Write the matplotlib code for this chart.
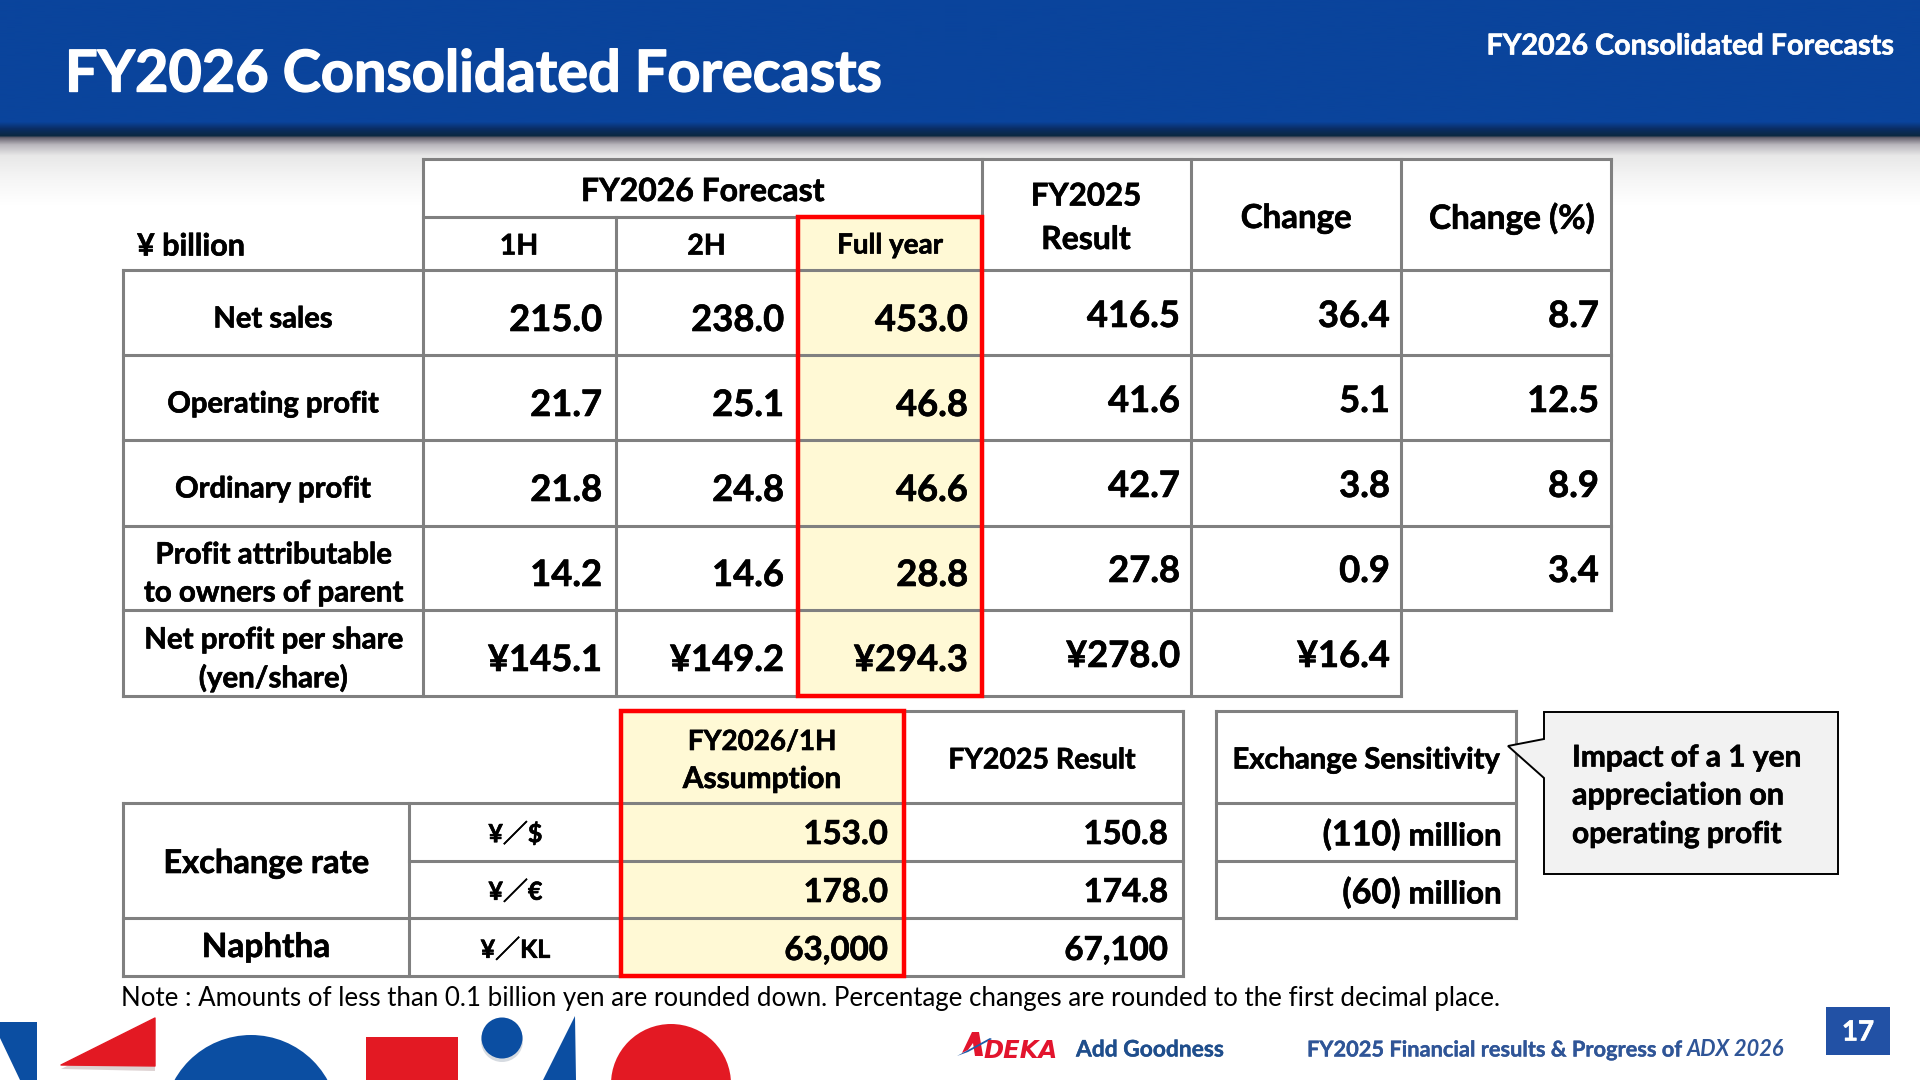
#!/usr/bin/env python3
"""
FY2026 consolidated forecast slide, drawn on one full-figure axes in pixel coordinates.
"""

import numpy as np
import matplotlib
matplotlib.use('Agg')
import matplotlib.pyplot as plt
import matplotlib.patheffects as pe
from matplotlib.patches import Polygon, Rectangle, Circle

plt.rcParams['font.family'] = ['Lato', 'Noto Sans CJK JP', 'DejaVu Sans']

# Data
row_labels = ['Net sales', 'Operating profit', 'Ordinary profit',
              'Profit attributable\nto owners of parent', 'Net profit per share\n(yen/share)']
forecast_1h = ['215.0', '21.7', '21.8', '14.2', '¥145.1']
forecast_2h = ['238.0', '25.1', '24.8', '14.6', '¥149.2']
forecast_full = ['453.0', '46.8', '46.6', '28.8', '¥294.3']
result_fy2025 = ['416.5', '41.6', '42.7', '27.8', '¥278.0']
change = ['36.4', '5.1', '3.8', '0.9', '¥16.4']
change_pct = ['8.7', '12.5', '8.9', '3.4', '']

assumption_units = ['¥／$', '¥／€', '¥／KL']
assumption_1h = ['153.0', '178.0', '63,000']
assumption_result = ['150.8', '174.8', '67,100']
sensitivity = ['(110)', '(60)']

# Layout in pixels
col_x = [123, 423, 616, 798, 982, 1191, 1401, 1611]
row_y = [270, 355, 440, 525.5, 610, 695.5]
GRAY = '#808080'
RED = '#FF0000'
CREAM = '#FFF9D5'
BLUE = '#0B4EA2'
SHAPE_RED = '#E31923'
NAVY = '#2F5597'

fig = plt.figure(figsize=(19.2, 10.8), dpi=100)
ax = fig.add_axes([0, 0, 1, 1])
ax.set_xlim(0, 1920)
ax.set_ylim(1080, 0)
ax.axis('off')


def put(x, y, s, size, ha='center', weight='bold', color='black', thick=0.45, **kw):
    t = ax.text(x, y, s, fontsize=size, ha=ha, va='center_baseline', fontweight=weight,
                color=color, zorder=6, **kw)
    if thick:
        # Lato bold is lighter than the slide's font
        t.set_path_effects([pe.withStroke(linewidth=thick, foreground=color)])
    return t


def hline(y, x0, x1):
    ax.plot([x0, x1], [y, y], color=GRAY, lw=2.2, solid_capstyle='projecting', zorder=3)


def vline(x, y0, y1):
    ax.plot([x, x], [y0, y1], color=GRAY, lw=2.2, solid_capstyle='projecting', zorder=3)


# Header band and its shadow
stops_y = [0, 122, 129, 136, 138, 145, 156, 178, 205]
stops_r = [10, 10, 10, 12, 105, 185, 232, 245, 255]
stops_g = [68, 68, 45, 40, 100, 182, 232, 245, 255]
stops_b = [156, 156, 100, 65, 112, 188, 232, 245, 255]
yy = np.arange(0, 206)
band = np.stack([np.interp(yy, stops_y, stops_r), np.interp(yy, stops_y, stops_g),
                 np.interp(yy, stops_y, stops_b)], axis=1)[:, None, :] / 255
ax.imshow(band, extent=[0, 1920, 205, 0], aspect='auto', zorder=1)
ax.set_xlim(0, 1920)
ax.set_ylim(1080, 0)

put(65, 70, 'FY2026 Consolidated Forecasts', 41.5, ha='left', color='white', thick=1.0)
put(1895, 44, 'FY2026 Consolidated Forecasts', 20.7, ha='right', color='white')

# Main table
ax.add_patch(Rectangle((col_x[0], 270), col_x[7] - col_x[0], 425.5, fc='white', zorder=2))
ax.add_patch(Rectangle((423, 159), col_x[7] - 423, 111, fc='white', zorder=2))
ax.add_patch(Rectangle((1403, 612), 220, 90, fc='white', zorder=2))
ax.add_patch(Rectangle((col_x[3], 217), col_x[4] - col_x[3], 478.5, fc=CREAM, zorder=2.5))

hline(159, 423, 1611)
hline(217, 423, 982)
for y in row_y[:5]:
    hline(y, 123, 1611)
hline(row_y[5], 123, 1401)
vline(123, 270, 695.5)
vline(423, 159, 695.5)
vline(616, 217, 695.5)
for x in [982, 1191, 1401]:
    vline(x, 159, 695.5)
vline(1611, 159, 610)
ax.add_patch(Rectangle((col_x[3], 217), col_x[4] - col_x[3], 478.5, fc='none', ec=RED, lw=3.2, zorder=4))

put(703, 189, 'FY2026 Forecast', 23)
put(519, 244, '1H', 20.5)
put(706.5, 244, '2H', 20.5)
put(890, 243, 'Full year', 20)
put(1086, 194, 'FY2025', 22.5)
put(1086, 237, 'Result', 23)
put(1296, 216, 'Change', 23.8)
put(1512, 216, 'Change (%)', 24)
put(137, 244, '¥ billion', 22, ha='left')

label_y = [317, 402, 487, 572, 657]
for label, y in zip(row_labels, label_y):
    lines = label.split('\n')
    if len(lines) == 1:
        put(273, y, label, 21)
    else:
        put(273, y - 19, lines[0], 21.2)
        put(273, y + 19, lines[1], 21.2)

forecast_cols = [(602, forecast_1h), (784, forecast_2h), (968, forecast_full)]
for x, values in forecast_cols:
    for value, y in zip(values, label_y):
        put(x, y + 0.5, value, 26.2, ha='right')

other_cols = [(1180, result_fy2025), (1390, change), (1599, change_pct)]
for x, values in other_cols:
    for value, y in zip(values, label_y):
        if value:
            put(x, y - 3.5, value, 26.2, ha='right')

# Assumption table
ax.add_patch(Rectangle((621, 711), 283, 265, fc=CREAM, zorder=2.5))
hline(711, 621, 1183)
hline(803, 123, 1183)
hline(861, 409, 1183)
hline(918, 123, 1183)
hline(976, 123, 1183)
vline(123, 803, 976)
vline(409, 803, 976)
vline(904, 711, 976)
vline(1183, 711, 976)
ax.add_patch(Rectangle((621, 711), 283, 265, fc='none', ec=RED, lw=3.2, zorder=4))

put(762, 739.5, 'FY2026/1H', 20)
put(762, 776.5, 'Assumption', 21.5)
put(1042, 758, 'FY2025 Result', 20.5)
put(266, 861, 'Exchange rate', 23.5)
put(266, 945, 'Naphtha', 24)

value_y = [832, 890, 948]
for unit, v1, v2, y in zip(assumption_units, assumption_1h, assumption_result, value_y):
    put(515.5, y, unit, 18)
    put(888, y, v1, 23.8, ha='right')
    put(1168, y, v2, 23.8, ha='right')

# Exchange sensitivity
ax.add_patch(Rectangle((1216, 711), 300, 207, fc='white', zorder=2))
hline(711, 1216, 1516)
hline(803, 1216, 1516)
hline(861, 1216, 1516)
hline(918, 1216, 1516)
vline(1216, 711, 918)
vline(1516, 711, 918)
put(1366, 758, 'Exchange Sensitivity', 21)

renderer = fig.canvas.get_renderer()
for amount, y in zip(sensitivity, value_y):
    t = put(1502, y + 2, 'million', 22.5, ha='right')
    left = t.get_window_extent(renderer).x0
    put(left - 8, y, amount, 24.5, ha='right')

# Callout
callout = [(1544, 712), (1838, 712), (1838, 874), (1544, 874), (1544, 778), (1508, 746), (1544, 739)]
ax.add_patch(Polygon(callout, closed=True, fc='#F2F2F2', ec='black', lw=1.4, zorder=5))
put(1572, 755, 'Impact of a 1 yen', 21.5, ha='left')
put(1572, 793, 'appreciation on', 22, ha='left')
put(1572, 831.5, 'operating profit', 21.5, ha='left')

# Note
put(121, 996, 'Note : Amounts of less than 0.1 billion yen are rounded down. '
    'Percentage changes are rounded to the first decimal place.', 18.6, ha='left', weight='normal', thick=0)

# Decorative shapes along the bottom, each with a faint shadow
ax.add_patch(Polygon([(0, 1022), (37, 1022), (37, 1080), (20, 1080), (0, 1038)], fc=BLUE, zorder=2))
ax.add_patch(Polygon([(61, 1069), (155, 1022), (155, 1071)], fc='#a08080', alpha=0.35, zorder=1.9))
ax.add_patch(Polygon([(61, 1065), (155, 1018), (155, 1066)], fc=SHAPE_RED, ec=SHAPE_RED, lw=1,
                     joinstyle='round', zorder=2))
ax.add_patch(Circle((251, 1122.5), 87.5, fc=BLUE, zorder=2))
ax.add_patch(Rectangle((366, 1037), 92, 43, fc=SHAPE_RED, zorder=2))
ax.add_patch(Circle((502, 1041), 21, fc='#9aa5b5', alpha=0.4, zorder=1.9))
ax.add_patch(Circle((502, 1038), 20.5, fc=BLUE, zorder=2))
ax.add_patch(Polygon([(575, 1016), (543, 1080), (576, 1080)], fc=BLUE, zorder=2))
ax.add_patch(Circle((671, 1084), 60, fc=SHAPE_RED, zorder=2))

# Footer
ax.add_patch(Polygon([(962, 1053), (972, 1032), (979, 1032), (983, 1056), (975, 1056), (973, 1043), (968, 1050)],
                     fc='#E2142D', zorder=5))
ax.add_patch(Polygon([(957, 1056), (990, 1038), (992, 1039), (968, 1052)], fc='#1F5BA8', zorder=6))
ax.text(983, 1049, 'DEKA', fontsize=17.5, fontweight='bold', fontstyle='italic', color='#E2142D',
        family='DejaVu Sans', ha='left', va='center_baseline', zorder=6)
put(1076, 1048, 'Add Goodness', 16.4, ha='left', color='#1F4E8C', thick=0.25)
footer = put(1307, 1048, 'FY2025 Financial results & Progress of ', 15.7, ha='left', color=NAVY, thick=0.25)
footer_right = footer.get_window_extent(renderer).x1
ax.text(footer_right, 1048, 'ADX 2026', fontsize=15.7, fontweight='bold', fontstyle='italic', color=NAVY,
        ha='left', va='center_baseline', zorder=6)
ax.add_patch(Rectangle((1826, 1007), 64, 48, fc='#2251A5', zorder=5))
put(1858, 1030, '17', 20, color='white')

fig.savefig('out.png', dpi=100)
